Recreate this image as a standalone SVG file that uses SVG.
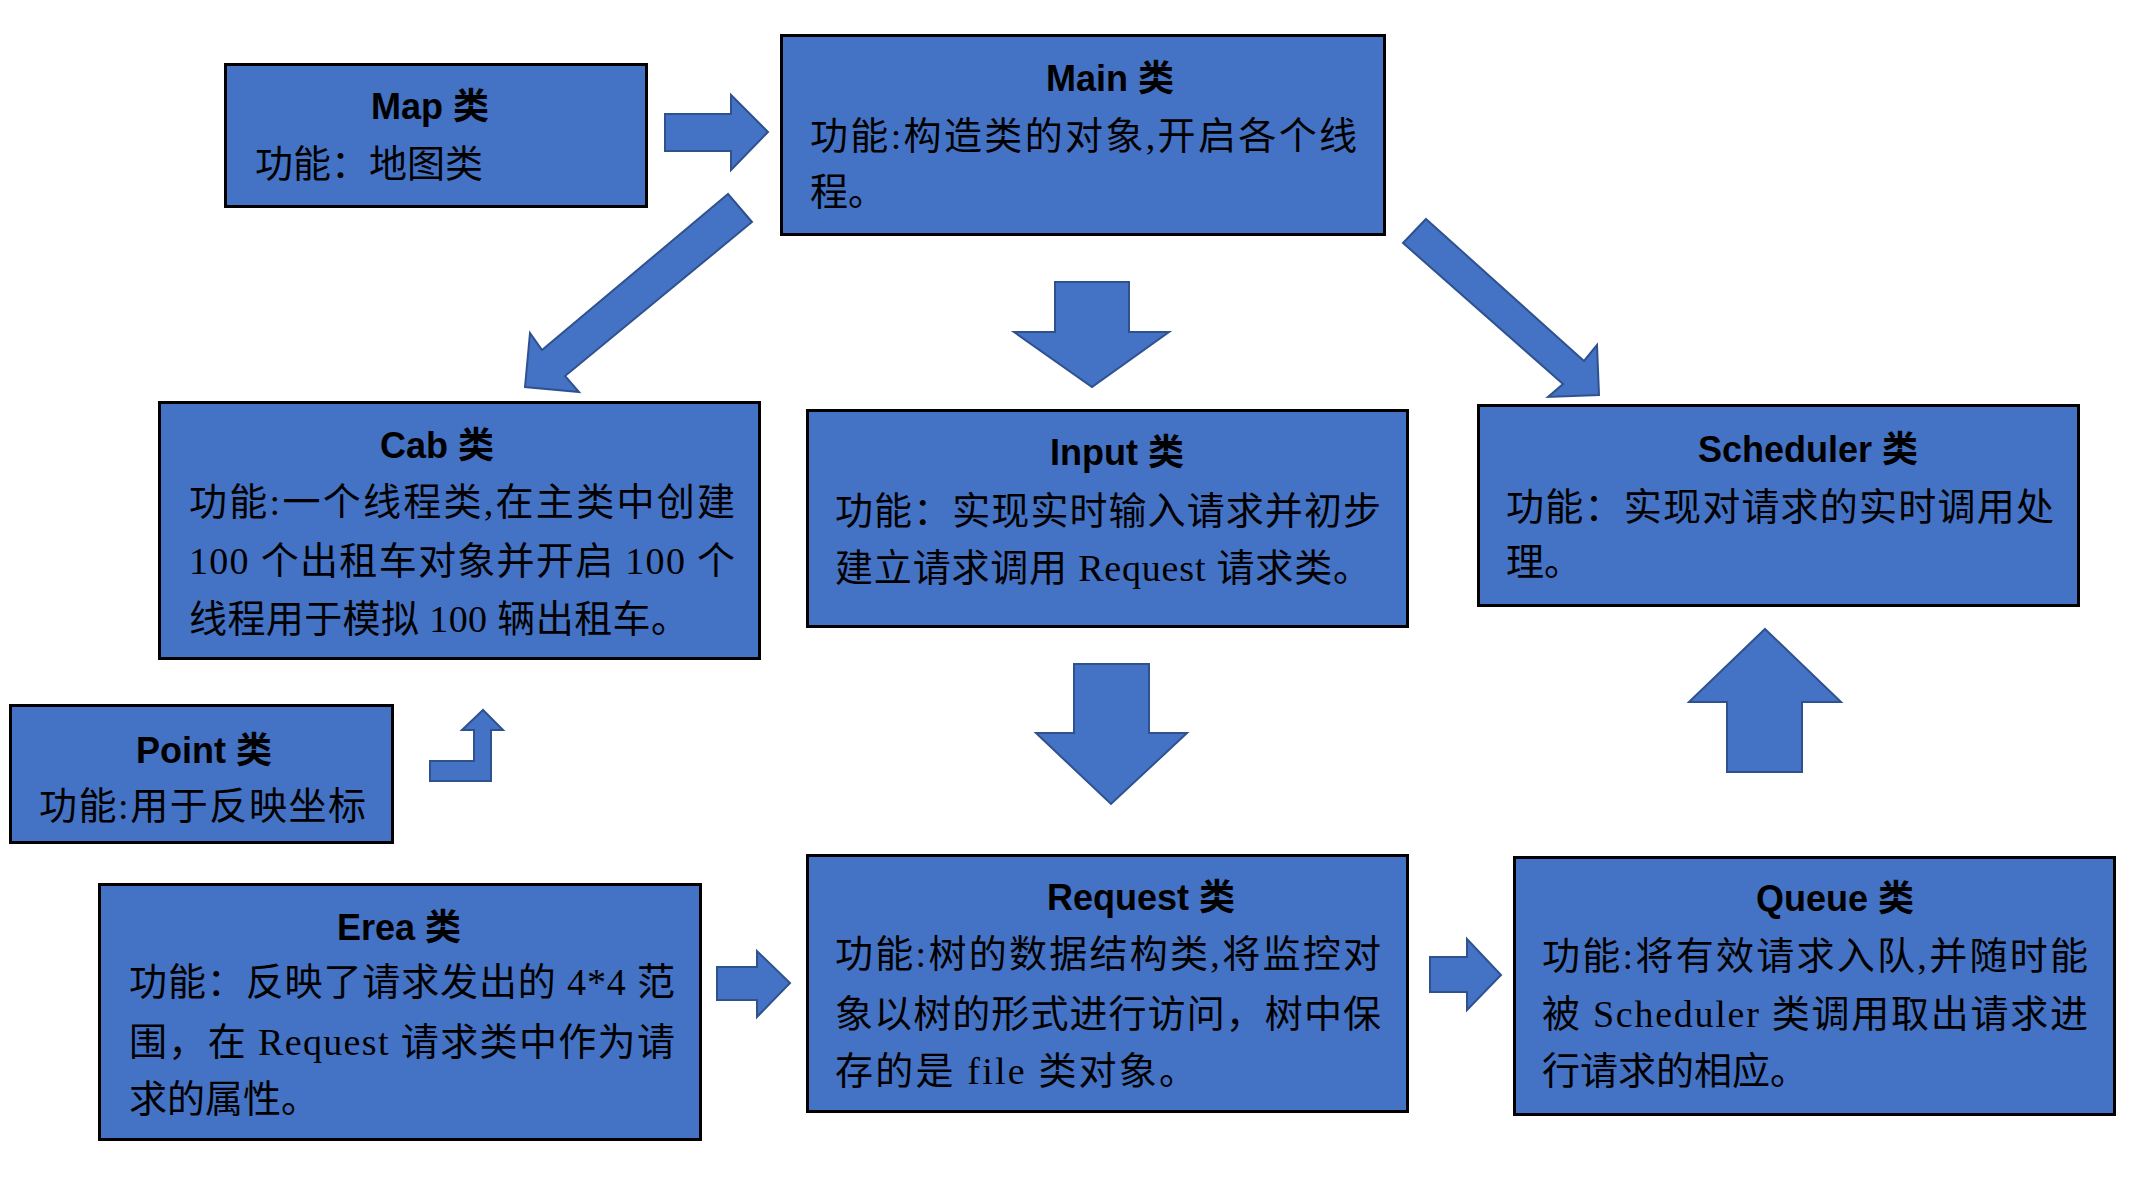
<svg xmlns="http://www.w3.org/2000/svg" width="2132" height="1178" viewBox="0 0 2132 1178">
<style>
.box{fill:#4472C4;stroke:#000;stroke-width:3}
.arr{fill:#4472C4;stroke:#2F528F;stroke-width:2;stroke-linejoin:miter}
.t{font-family:"Liberation Sans","Noto Sans CJK SC",sans-serif;font-weight:bold;font-size:36px;fill:#000;text-anchor:middle}
.b{font-family:"Liberation Serif","Noto Sans CJK SC",sans-serif;font-size:38px;fill:#000}
</style>
<rect width="2132" height="1178" fill="#fff"/>
<g id="connectors">
<polygon class="arr" points="665,114 731,114 731,95 768,132 731,170 731,151 665,151"/>
<polygon class="arr" points="728,194 542,350 530,333 525,387 579,392 565,376 752,222"/>
<polygon class="arr" points="1055,282 1129,282 1129,332 1169,332 1092,387 1014,332 1055,332"/>
<polygon class="arr" points="1426,219 1584,361 1597,345 1599,395 1548,397 1563,384 1403,243"/>
<polygon class="arr" points="430,761 474,761 474,730 462,730 483,710 503,730 491,730 491,781 430,781"/>
<polygon class="arr" points="1074,664 1149,664 1149,733 1187,733 1111,804 1036,733 1074,733"/>
<polygon class="arr" points="1765,629 1841,702 1802,702 1802,772 1727,772 1727,702 1689,702"/>
<polygon class="arr" points="717,967 757,967 757,951 790,983 757,1017 757,1000 717,1000"/>
<polygon class="arr" points="1430,957 1467,957 1467,939 1501,975 1467,1010 1467,992 1430,992"/>
</g>
<g id="map">
<rect class="box" x="225.5" y="64.5" width="421" height="142"/>
<text class="t" x="430" y="119">Map 类</text>
<text class="b" x="255" y="177">功能：地图类</text>
</g>
<g id="main">
<rect class="box" x="781.5" y="35.5" width="603" height="199"/>
<text class="t" x="1110" y="91">Main 类</text>
<text class="b" x="810" y="149" textLength="547" lengthAdjust="spacing">功能:构造类的对象,开启各个线</text>
<text class="b" x="810" y="205">程。</text>
</g>
<g id="cab">
<rect class="box" x="159.5" y="402.5" width="600" height="256"/>
<text class="t" x="437" y="458">Cab 类</text>
<text class="b" x="189" y="515" textLength="546" lengthAdjust="spacing">功能:一个线程类,在主类中创建</text>
<text class="b" x="189" y="574" textLength="546" lengthAdjust="spacing">100 个出租车对象并开启 100 个</text>
<text class="b" x="189" y="632" textLength="500" lengthAdjust="spacing">线程用于模拟 100 辆出租车。</text>
</g>
<g id="input">
<rect class="box" x="807.5" y="410.5" width="600" height="216"/>
<text class="t" x="1117" y="465">Input 类</text>
<text class="b" x="835" y="524" textLength="546" lengthAdjust="spacing">功能：实现实时输入请求并初步</text>
<text class="b" x="835" y="581" textLength="536" lengthAdjust="spacing">建立请求调用 Request 请求类。</text>
</g>
<g id="scheduler">
<rect class="box" x="1478.5" y="405.5" width="600" height="200"/>
<text class="t" x="1808" y="462">Scheduler 类</text>
<text class="b" x="1506" y="520" textLength="548" lengthAdjust="spacing">功能：实现对请求的实时调用处</text>
<text class="b" x="1506" y="575">理。</text>
</g>
<g id="point">
<rect class="box" x="10.5" y="705.5" width="382" height="137"/>
<text class="t" x="204" y="763">Point 类</text>
<text class="b" x="39" y="819" textLength="327" lengthAdjust="spacing">功能:用于反映坐标</text>
</g>
<g id="erea">
<rect class="box" x="99.5" y="884.5" width="601" height="255"/>
<text class="t" x="399" y="940">Erea 类</text>
<text class="b" x="129" y="995" textLength="546" lengthAdjust="spacing">功能：反映了请求发出的 4*4 范</text>
<text class="b" x="129" y="1055" textLength="546" lengthAdjust="spacing">围，在 Request 请求类中作为请</text>
<text class="b" x="129" y="1112">求的属性。</text>
</g>
<g id="request">
<rect class="box" x="807.5" y="855.5" width="600" height="256"/>
<text class="t" x="1141" y="910">Request 类</text>
<text class="b" x="835" y="967" textLength="546" lengthAdjust="spacing">功能:树的数据结构类,将监控对</text>
<text class="b" x="835" y="1027" textLength="546" lengthAdjust="spacing">象以树的形式进行访问，树中保</text>
<text class="b" x="835" y="1084" textLength="362" lengthAdjust="spacing">存的是 file 类对象。</text>
</g>
<g id="queue">
<rect class="box" x="1514.5" y="857.5" width="600" height="257"/>
<text class="t" x="1835" y="911">Queue 类</text>
<text class="b" x="1542" y="969" textLength="546" lengthAdjust="spacing">功能:将有效请求入队,并随时能</text>
<text class="b" x="1542" y="1027" textLength="546" lengthAdjust="spacing">被 Scheduler 类调用取出请求进</text>
<text class="b" x="1542" y="1084">行请求的相应。</text>
</g>
</svg>
